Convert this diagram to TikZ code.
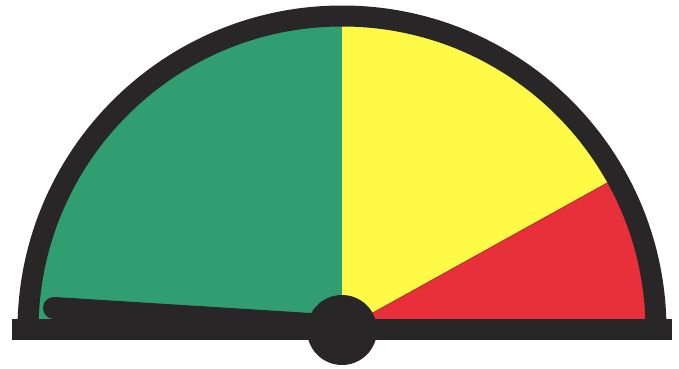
\documentclass[tikz,border=0pt]{standalone}
\definecolor{gGreen}{RGB}{48,158,112}
\definecolor{gYellow}{RGB}{255,250,70}
\definecolor{gRed}{RGB}{232,48,58}
\definecolor{gBlack}{RGB}{40,38,38}
\tikzset{rim/.style={draw=gBlack,line width=21pt}}
\begin{document}
\begin{tikzpicture}[x=1pt,y=1pt]
\useasboundingbox (0,0) rectangle (679,368);
\coordinate (C) at (342,38);
% sectors
\fill[gGreen] (C) -- ++(180:306) arc[start angle=180,end angle=90,radius=306] -- cycle;
\fill[gYellow] (C) -- ++(90:306) arc[start angle=90,end angle=29,radius=306] -- cycle;
\fill[gRed] (C) -- ++(29:306) arc[start angle=29,end angle=0,radius=306] -- cycle;
\draw[gRed!80!black,line width=0.8pt] (C) -- ++(29:306);
% rim
\draw[rim] ([xshift=-314pt]C) arc[start angle=180,end angle=0,radius=314];
% base bar
\coordinate (BL) at (12,39);
\coordinate (BR) at (672,39);
\draw[gBlack,line width=21pt] (BL) -- (BR);
% needle
\coordinate (N) at (54,60);
\draw[gBlack,line width=22pt,line cap=round] (N) -- (342,42);
% hub
\fill[gBlack] (C) circle[radius=35];
\end{tikzpicture}
\end{document}
